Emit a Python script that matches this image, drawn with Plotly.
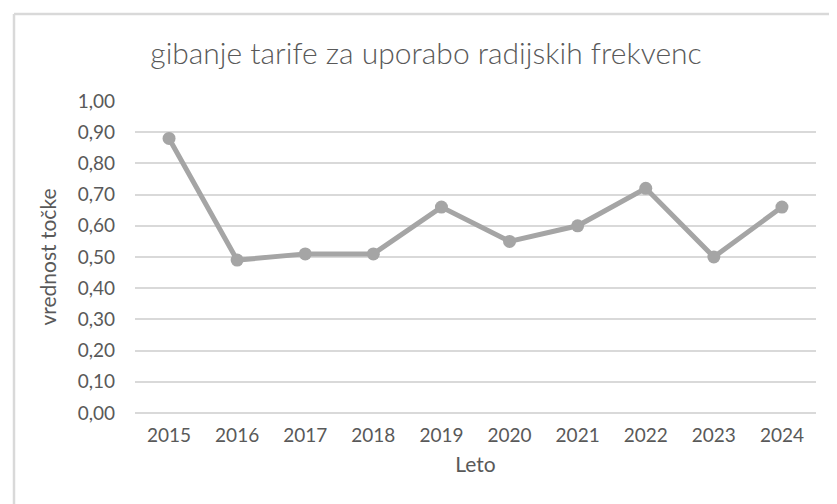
import plotly.graph_objects as go

years = ["2015", "2016", "2017", "2018", "2019", "2020", "2021", "2022", "2023", "2024"]
values = [0.88, 0.49, 0.51, 0.51, 0.66, 0.55, 0.60, 0.72, 0.50, 0.66]
y_ticks = [0.0, 0.1, 0.2, 0.3, 0.4, 0.5, 0.6, 0.7, 0.8, 0.9, 1.0]

W, H = 837, 504
L, R, T, B = 127, 29, 93, 99
pw, ph = W - L - R, H - T - B

FONT = "Lato, 'Liberation Sans', sans-serif"
TXT = "#595959"
GRID = "#d9d9d9"

fig = go.Figure()
fig.add_trace(go.Scatter(
    x=years, y=values, mode="lines+markers",
    line=dict(color="#a5a5a5", width=5),
    marker=dict(color="#a5a5a5", size=13),
    hoverinfo="x+y", showlegend=False,
))

def px_x(p):
    return (p - L) / pw

def px_y(p):
    return (H - B - p) / ph

fig.update_layout(
    width=W, height=H,
    margin=dict(l=L, r=R, t=T, b=B, autoexpand=False),
    paper_bgcolor="white", plot_bgcolor="white",
    separators=", ",
    font=dict(family=FONT, color=TXT, size=18, weight=400),
    title=dict(text="gibanje tarife za uporabo radijskih frekvenc",
               x=418 / W, xref="container", xanchor="center",
               y=1 - 45 / H, yref="container", yanchor="middle",
               font=dict(size=30, color=TXT, family=FONT, weight=300)),
    xaxis=dict(type="category", range=[-0.5, 9.5], showgrid=False,
               showline=False, zeroline=False, ticks="",
               ticklabelstandoff=9,
               tickfont=dict(size=19, color=TXT, weight=400),
               title=dict(text="Leto", font=dict(size=21, color=TXT, weight=400), standoff=12)),
    yaxis=dict(range=[0, 1.0], tickvals=y_ticks, tickformat=".2f",
               showgrid=True, gridcolor=GRID, gridwidth=2,
               zeroline=True, zerolinecolor=GRID, zerolinewidth=2,
               showline=False, ticks="", ticklabelstandoff=19,
               tickfont=dict(size=19, color=TXT, weight=400),
               title=dict(text="vrednost točke", font=dict(size=21, color=TXT, weight=400), standoff=15)),
    shapes=[
        dict(type="line", xref="paper", yref="paper",
             x0=px_x(6), x1=px_x(W + 5), y0=px_y(6), y1=px_y(6),
             line=dict(color=GRID, width=2.5)),
        dict(type="line", xref="paper", yref="paper",
             x0=px_x(6), x1=px_x(6), y0=px_y(6), y1=px_y(H + 5),
             line=dict(color=GRID, width=2.5)),
    ],
)

fig.write_html("out.html")
